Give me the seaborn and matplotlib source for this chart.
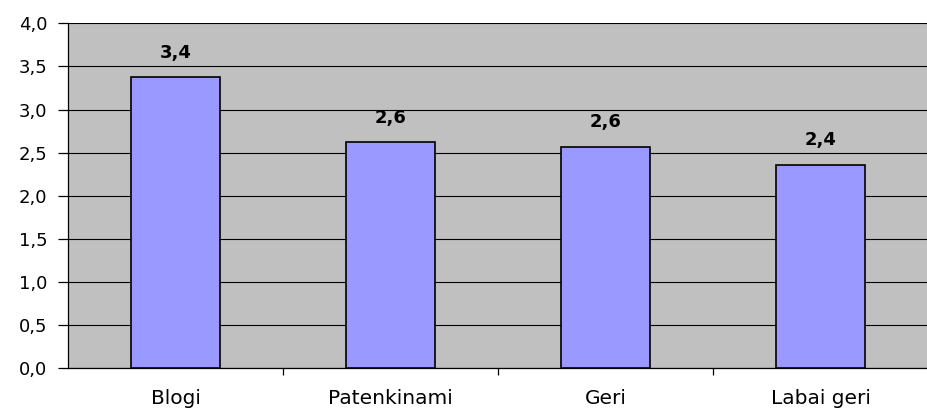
import matplotlib
matplotlib.use("Agg")
import matplotlib.pyplot as plt
import seaborn as sns
import pandas as pd

# data
categories = ["Blogi", "Patenkinami", "Geri", "Labai geri"]
values = [3.38, 2.62, 2.57, 2.36]
labels = ["3,4", "2,6", "2,6", "2,4"]
y_ticks = [0.0, 0.5, 1.0, 1.5, 2.0, 2.5, 3.0, 3.5, 4.0]

df = pd.DataFrame({"cat": categories, "val": values})

sns.set_style("white")
plt.rcParams["font.family"] = ["DejaVu Sans"]
plt.rcParams["text.color"] = "black"
plt.rcParams["xtick.color"] = "black"
plt.rcParams["ytick.color"] = "black"

fig = plt.figure(figsize=(9.28, 4.09), dpi=100)
ax = fig.add_axes([0.0733, 0.0995, 0.9267, 0.8435])
ax.set_facecolor("#C0C0C0")

sns.barplot(data=df, x="cat", y="val", color="#9999FF", saturation=1,
            edgecolor="black", linewidth=1.2, width=0.41, ax=ax, zorder=3)

for i, (v, lab) in enumerate(zip(values, labels)):
    ax.annotate(lab, (i, v), xytext=(0, 11), textcoords="offset points",
                ha="center", va="bottom", fontsize=13, fontweight="bold",
                color="black")

ax.set_ylim(0, 4.0)
ax.set_xlim(-0.5, 3.5)
ax.set_yticks(y_ticks)
ax.set_yticklabels([f"{t:.1f}".replace(".", ",") for t in y_ticks], fontsize=13)
ax.yaxis.grid(True, color="black", linewidth=0.8, zorder=1)
ax.set_axisbelow(True)

# category labels centred, tick marks between categories
ax.set_xticks([0.5, 1.5, 2.5], minor=False)
ax.set_xticklabels([])
ax.set_xticks(range(len(categories)), minor=True)
ax.set_xticklabels(categories, minor=True, fontsize=14.5)
ax.tick_params(axis="x", which="major", length=5, width=0.9, colors="black", direction="out", bottom=True)
ax.tick_params(axis="x", which="minor", length=0, pad=15, colors="black")
ax.tick_params(axis="y", length=7, width=0.9, colors="black", direction="out", left=True, pad=8)

ax.set_xlabel("")
ax.set_ylabel("")
for s in ["top", "right"]:
    ax.spines[s].set_visible(False)
for s in ["left", "bottom"]:
    ax.spines[s].set_color("black")
    ax.spines[s].set_linewidth(0.9)

fig.savefig("out.png", dpi=100)
